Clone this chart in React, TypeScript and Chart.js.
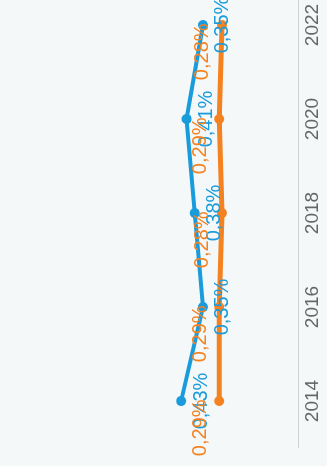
import React, { useEffect, useRef } from "react";
import { Chart, registerables } from "chart.js";

Chart.register(...registerables);

// ---- data ----
const years: string[] = ["2014", "2016", "2018", "2020", "2022"];
const seriesBlue: number[] = [0.43, 0.35, 0.38, 0.41, 0.35];
const seriesOrange: number[] = [0.29, 0.29, 0.28, 0.29, 0.28];
const seriesNames: string[] = ["Série 1", "Série 2"];

// ---- styles ----
const BLUE = "#1a9bdb";
const ORANGE = "#f58220";
const BG = "#f4f8f9";
const FONT = "'Liberation Sans', Arial, Helvetica, sans-serif";
const labelAngles: number[] = [90, -127];

const fmt = (v: number) => v.toFixed(2).replace(".", ",") + "%";

const pointLabels = {
  id: "pointLabels",
  afterDatasetsDraw(chart: any) {
    const ctx = chart.ctx as CanvasRenderingContext2D;
    ctx.save();
    ctx.font = `20px ${FONT}`;
    ctx.textAlign = "center";
    ctx.textBaseline = "middle";
    chart.data.datasets.forEach((ds: any, di: number) => {
      const meta = chart.getDatasetMeta(di);
      const a = (labelAngles[di] * Math.PI) / 180;
      const vx = Math.cos(a);
      const vy = Math.sin(a);
      const vs = 1 / Math.max(Math.abs(vx), Math.abs(vy));
      const offset = 4;
      const pad = 4;
      meta.data.forEach((pt: any, i: number) => {
        const text = fmt(ds.data[i] as number);
        const w = ctx.measureText(text).width + pad * 2;
        const h = 24 + pad * 2;
        const dx = (w / 2) * vx * vs + offset * vx;
        const dy = (h / 2) * vy * vs + offset * vy;
        ctx.fillStyle = ds.borderColor;
        ctx.fillText(text, pt.x + dx, pt.y + dy);
      });
    });
    ctx.restore();
  },
};

export default function App() {
  const ref = useRef<HTMLCanvasElement | null>(null);

  useEffect(() => {
    document.body.style.background = BG;
    const canvas = ref.current;
    if (!canvas) return;
    const chart = new Chart(canvas, {
      type: "line",
      data: {
        labels: years,
        datasets: [
          {
            label: seriesNames[0],
            data: seriesBlue,
            borderColor: BLUE,
            backgroundColor: BLUE,
            borderWidth: 4,
            pointRadius: 5,
            pointBorderWidth: 0,
            pointBackgroundColor: BLUE,
            tension: 0,
            fill: false,
          },
          {
            label: seriesNames[1],
            data: seriesOrange,
            borderColor: ORANGE,
            backgroundColor: ORANGE,
            borderWidth: 5,
            pointRadius: 5,
            pointBorderWidth: 0,
            pointBackgroundColor: ORANGE,
            tension: 0,
            fill: false,
          },
        ],
      },
      options: {
        animation: false,
        responsive: false,
        devicePixelRatio: 1,
        layout: { padding: { left: 18, right: 18, top: 26, bottom: 0 } },
        plugins: {
          legend: { display: false },
          tooltip: { enabled: false },
        },
        scales: {
          x: {
            offset: true,
            grid: { display: false, drawTicks: false },
            border: { display: true, color: "#cfd2d4", width: 1 },
            ticks: {
              color: "#666666",
              font: { family: FONT, size: 19 },
              padding: 3,
              maxRotation: 0,
              autoSkip: false,
            },
          },
          y: {
            display: false,
            min: 0,
            max: 1,
          },
        },
      },
      plugins: [pointLabels],
    });
    return () => chart.destroy();
  }, []);

  return (
    <div
      style={{
        position: "fixed",
        left: 0,
        top: 0,
        width: 466,
        height: 327,
        overflow: "hidden",
        background: BG,
        transformOrigin: "0 0",
        transform: "translateY(466px) rotate(-90deg)",
      }}
    >
      <canvas ref={ref} width={506} height={327} style={{ display: "block" }} />
    </div>
  );
}
